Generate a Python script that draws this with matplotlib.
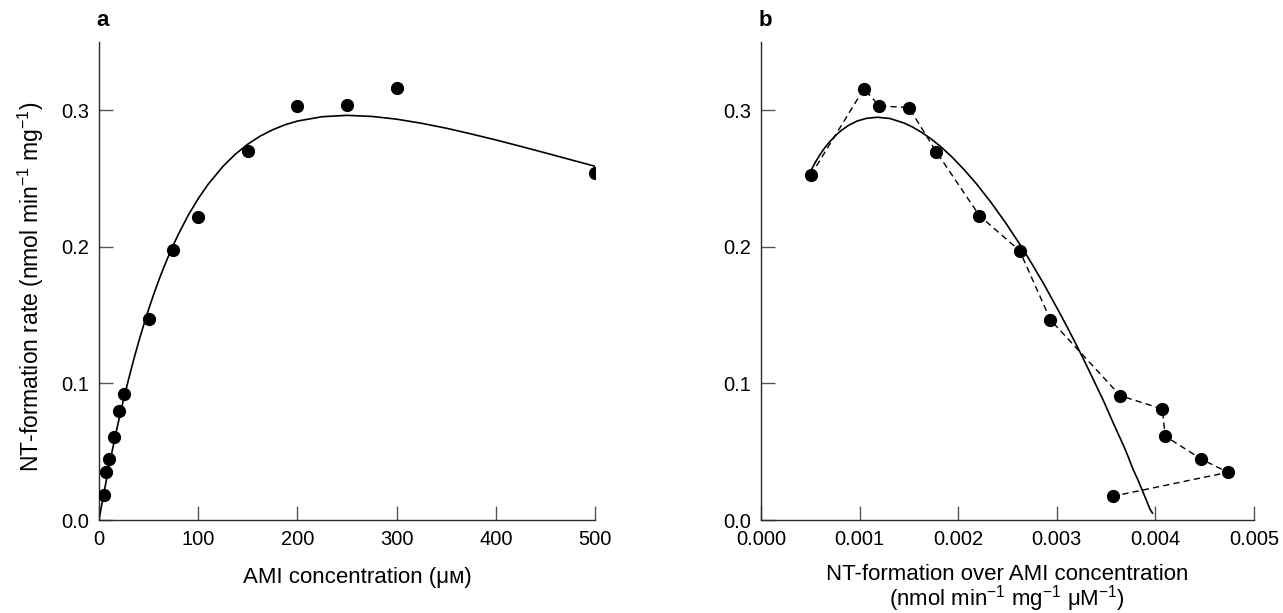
import matplotlib
matplotlib.use("Agg")
import matplotlib.pyplot as plt

plt.rcParams['font.family'] = ['Liberation Sans', 'DejaVu Sans']
plt.rcParams['mathtext.fontset'] = 'custom'
plt.rcParams['mathtext.rm'] = 'Liberation Sans'
plt.rcParams['mathtext.it'] = 'Liberation Sans:italic'
plt.rcParams['mathtext.bf'] = 'Liberation Sans:bold'

# ---- Panel a data: AMI concentration (uM) vs NT-formation rate ----
conc = [5, 7.5, 10, 15, 20, 25, 50, 75, 100, 150, 200, 250, 300, 500]
rate = [0.018, 0.035, 0.045, 0.061, 0.080, 0.092, 0.147, 0.198, 0.222,
        0.270, 0.303, 0.304, 0.316, 0.254]

# fitted curve, panel a
curve_a_x = [0, 1, 3, 5, 7.5, 10, 12.5, 15, 17.5, 20, 22.5, 25, 30, 35, 40,
             45, 50, 55, 60, 65, 70, 75, 80, 90, 100, 110, 125, 137.5, 150,
             162.5, 175, 187.5, 200, 225, 250, 275, 300, 325, 350, 375, 400,
             425, 450, 475, 500]
curve_a_y = [0.0, 0.0041, 0.0121, 0.0200, 0.0295, 0.0388, 0.0478, 0.0565,
             0.0650, 0.0732, 0.0812, 0.0889, 0.1036, 0.1175, 0.1305, 0.1427,
             0.1542, 0.1649, 0.1750, 0.1844, 0.1932, 0.2015, 0.2092, 0.2232,
             0.2353, 0.2458, 0.2590, 0.2679, 0.2752, 0.2811, 0.2857, 0.2894,
             0.2921, 0.2953, 0.2963, 0.2955, 0.2935, 0.2905, 0.2869, 0.2827,
             0.2783, 0.2736, 0.2688, 0.2639, 0.2590]

# ---- Panel b data: rate / concentration vs rate ----
ratio_b = [0.000507, 0.001044, 0.001199, 0.00150, 0.001777, 0.002216,
           0.002624, 0.002935, 0.003644, 0.00407, 0.00410, 0.004465,
           0.004735, 0.00357]
rate_b = [0.2527, 0.3158, 0.3032, 0.3020, 0.2697, 0.2228, 0.1971, 0.1466,
          0.0910, 0.0813, 0.0614, 0.0446, 0.0349, 0.0174]

curve_b_x = [0.000514, 0.000551, 0.000593, 0.000639, 0.000691, 0.000750,
             0.000815, 0.000889, 0.000974, 0.001070, 0.00118, 0.001307,
             0.001453, 0.001535, 0.001623, 0.001719, 0.001823, 0.001934,
             0.002055, 0.002187, 0.002329, 0.002484, 0.002652, 0.002759,
             0.002872, 0.00303, 0.003114, 0.00320, 0.003289, 0.00338,
             0.003476, 0.00357, 0.003673, 0.003723, 0.00377, 0.003827,
             0.00388, 0.003913, 0.003945, 0.00397]
curve_b_y = [0.2569, 0.2619, 0.2669, 0.2718, 0.2765, 0.2811, 0.2853, 0.2890,
             0.2921, 0.2941, 0.2949, 0.2940, 0.2906, 0.2878, 0.2841, 0.2794,
             0.2734, 0.2660, 0.2569, 0.2460, 0.2329, 0.2173, 0.1989, 0.1862,
             0.1723, 0.1515, 0.1401, 0.1280, 0.1151, 0.1014, 0.0869, 0.0714,
             0.0551, 0.0465, 0.0377, 0.0287, 0.0194, 0.0137, 0.0079, 0.0051]

xticks_a = [0, 100, 200, 300, 400, 500]
xticks_b = [0.000, 0.001, 0.002, 0.003, 0.004, 0.005]
yticks = [0.0, 0.1, 0.2, 0.3]

W, H = 1283, 613
fig = plt.figure(figsize=(W / 100, H / 100), dpi=100)

def frac(x0, y_top, x1, y_bot):
    return [x0 / W, 1 - y_bot / H, (x1 - x0) / W, (y_bot - y_top) / H]

axa = fig.add_axes(frac(99, 42, 595, 520))
axb = fig.add_axes(frac(761, 42, 1254, 520))

TICK_FS = 14.5
LABEL_FS = 16
spine_col = '#2a2a2a'
for ax in (axa, axb):
    for s in ('top', 'right'):
        ax.spines[s].set_visible(False)
    for s in ('left', 'bottom'):
        ax.spines[s].set_color(spine_col)
        ax.spines[s].set_linewidth(1.0)
    ax.tick_params(direction='in', length=10, width=1.0, color='#555555',
                   labelsize=TICK_FS, labelcolor='black')
    ax.tick_params(axis='x', pad=7.5)
    ax.tick_params(axis='y', pad=7)
    ax.set_ylim(0, 0.35)
    ax.set_yticks(yticks)
    ax.set_yticklabels([f"{t:.1f}" for t in yticks])

# Panel a
axa.plot(curve_a_x, curve_a_y, color='black', lw=1.2, zorder=2)
axa.plot(conc, rate, 'o', color='black', ms=8.5, zorder=3)
axa.set_xlim(0, 500)
axa.set_xticks(xticks_a)
axa.set_xticklabels([str(t) for t in xticks_a])

# Panel b
axb.plot(curve_b_x, curve_b_y, color='black', lw=1.2, zorder=2)
axb.plot(ratio_b, rate_b, color='black', lw=1.0, dashes=(4.5, 3), zorder=2)
axb.plot(ratio_b, rate_b, 'o', color='black', ms=8.5, zorder=3)
axb.set_xlim(0, 0.005)
axb.set_xticks(xticks_b)
axb.set_xticklabels([f"{t:.3f}" for t in xticks_b])

# axis titles
fig.text(31 / W, 1 - 287 / H,
         'NT-formation rate (nmol min$^{-1}$ mg$^{-1}$)',
         fontsize=16.5, rotation=90, ha='center', va='center')
fig.text(357 / W, 1 - 577 / H, 'AMI concentration (\u03bc\u1d0d)',
         fontsize=LABEL_FS, ha='center', va='center')
fig.text(1007 / W, 1 - 589 / H,
         'NT-formation over AMI concentration\n'
         '(nmol min$^{-1}$ mg$^{-1}$ \u03bcM$^{-1}$)',
         fontsize=LABEL_FS, ha='center', va='center', linespacing=0.95,
         multialignment='center')

fig.text(102.5 / W, 1 - 21 / H, 'a', fontsize=16, fontweight='bold',
         ha='center', va='center')
fig.text(765 / W, 1 - 20 / H, 'b', fontsize=16, fontweight='bold',
         ha='center', va='center')

fig.savefig('out.png', dpi=100)
